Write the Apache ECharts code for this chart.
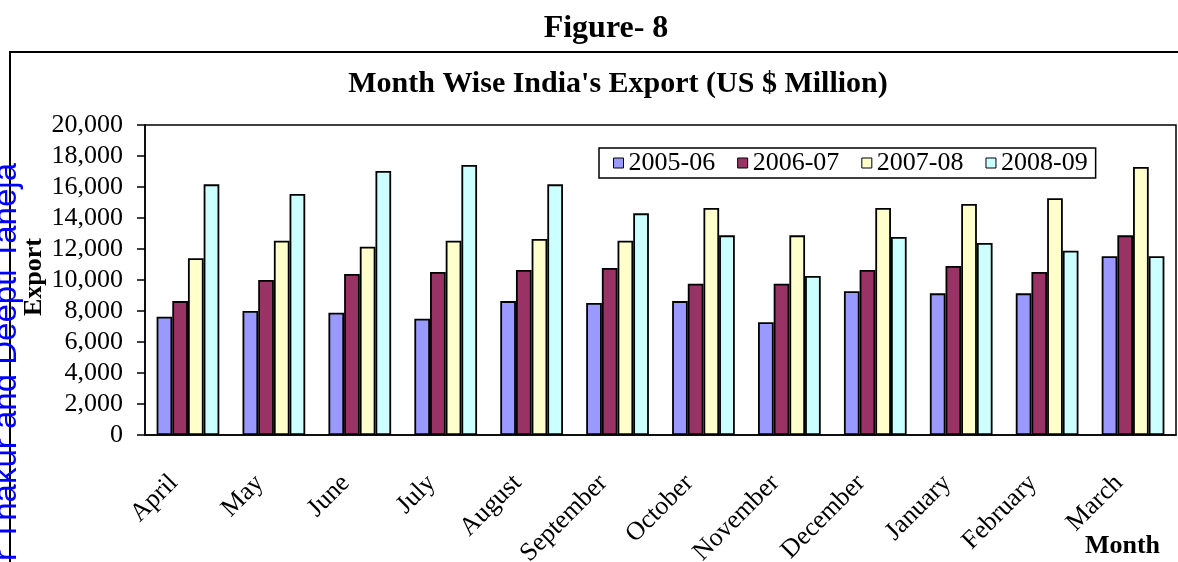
<!DOCTYPE html>
<html>
<head>
<meta charset="utf-8">
<script src="https://cdn.jsdelivr.net/npm/echarts@6/dist/echarts.min.js"></script>
<style>
html,body{margin:0;padding:0;background:#fff;}
#chart{width:1178px;height:562px;}
</style>
</head>
<body>
<div id="chart"></div>
<script>
const months = ['April','May','June','July','August','September','October','November','December','January','February','March'];
const seriesNames = ['2005-06','2006-07','2007-08','2008-09'];
const exp0506 = [7630, 8000, 7890, 7500, 8640, 8520, 8640, 7270, 9270, 9140, 9140, 11530];
const exp0607 = [8640, 10000, 10390, 10520, 10650, 10770, 9760, 9760, 10650, 10900, 10520, 12880];
const exp0708 = [11400, 12540, 12150, 12540, 12650, 12540, 14650, 12880, 14650, 14900, 15270, 17290];
const exp0809 = [16170, 15550, 17030, 17420, 16170, 14300, 12880, 10260, 12770, 12390, 11890, 11530];
const colors = ['#9999FF','#993366','#FFFFCC','#CCFFFF'];

const serif = '"Liberation Serif", "Times New Roman", serif';
const chart = echarts.init(document.getElementById('chart'));
const values = [exp0506, exp0607, exp0708, exp0809];

chart.setOption({
  animation: false,
  backgroundColor: '#fff',
  title: [
    { text: 'Figure- 8', left: 601, top: 8, textAlign: 'center',
      textStyle: { fontFamily: serif, fontWeight: 'bold', fontSize: 32, color: '#000' } },
    { text: "Month Wise India's Export (US $ Million)", left: 613, top: 64, textAlign: 'center',
      textStyle: { fontFamily: serif, fontWeight: 'bold', fontSize: 30, color: '#000' } }
  ],
  legend: {
    left: 599, top: 148,
    icon: 'rect',
    itemWidth: 10, itemHeight: 10, itemGap: 22,
    padding: [2, 8, 2, 14],
    borderColor: '#000', borderWidth: 1.5,
    backgroundColor: '#fff',
    textStyle: { fontFamily: serif, fontSize: 26, color: '#000' },
    itemStyle: { borderColor: '#000', borderWidth: 1 },
    data: seriesNames
  },
  grid: { left: 145, right: 2, top: 125, bottom: 127, outerBoundsMode: 'none', containLabel: false,
    show: true, borderColor: '#000', borderWidth: 1.5 },
  xAxis: {
    type: 'category',
    data: months,
    axisLine: { lineStyle: { color: '#000', width: 1.5 } },
    axisTick: { length: 8, lineStyle: { color: '#000', width: 1.5 } },
    axisLabel: { rotate: 45, margin: 30, padding: [0, 20, 0, 0], interval: 0, fontFamily: serif, fontSize: 26, color: '#000' }
  },
  yAxis: {
    type: 'value', min: 0, max: 20000, interval: 2000,
    splitLine: { show: false },
    axisLine: { show: true, lineStyle: { color: '#000', width: 1.5 } },
    axisTick: { show: true, length: 8, lineStyle: { color: '#000', width: 1.5 } },
    axisLabel: { margin: 22, fontFamily: serif, fontSize: 26, color: '#000',
      formatter: v => v.toLocaleString('en-US') }
  },
  series: seriesNames.map((n, i) => ({
    name: n, type: 'bar', data: values[i],
    barGap: '0%', barCategoryGap: '27%',
    itemStyle: { color: colors[i], borderColor: '#000', borderWidth: 1.8 }
  })),
  graphic: [
    { type: 'rect', shape: { x: 10, y: 52, width: 1300, height: 700 }, silent: true, z: -1,
      style: { fill: 'none', stroke: '#000', lineWidth: 2 } },
    { type: 'text', x: 1160, y: 546, z: 10,
      style: { text: 'Month', font: 'bold 26px "Liberation Serif"', fill: '#000', textAlign: 'right', textVerticalAlign: 'middle' } },
    { type: 'text', x: 7.4, y: 163, rotation: Math.PI / 2, z: 20,
      style: { text: 'r Thakur and Deepti Taneja', font: '33px "Liberation Sans"', fill: '#0000ff', textAlign: 'right', textVerticalAlign: 'middle' } },
    { type: 'text', x: 34, y: 277, rotation: Math.PI / 2, z: 15,
      style: { text: 'Export', font: 'bold 26px "Liberation Serif"', fill: '#000', textAlign: 'center', textVerticalAlign: 'middle' } }
  ]
});
</script>
</body>
</html>
